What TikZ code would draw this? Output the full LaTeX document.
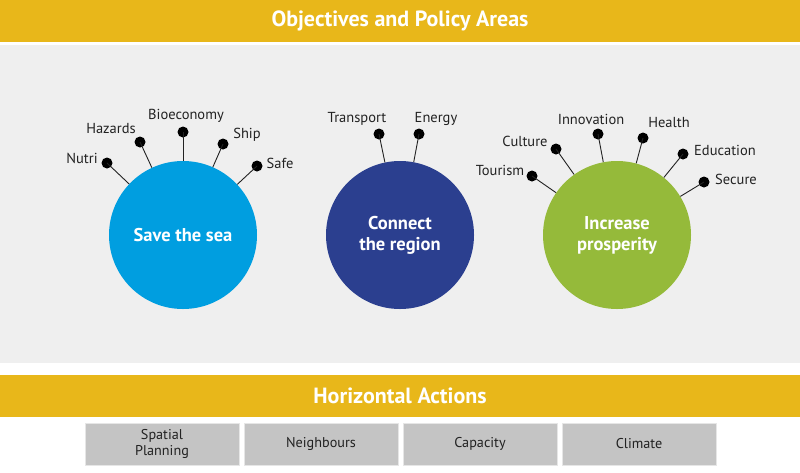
\documentclass[tikz,border=0pt]{standalone}
\usepackage{fontspec}
\setmainfont{PT Sans}
\usepackage{xcolor}
\usepackage{tikz}
\usetikzlibrary{positioning,calc}
\definecolor{cBar}{HTML}{E8B71A}
\definecolor{cPanel}{HTML}{EFEFEF}
\definecolor{cSea}{HTML}{009EE0}
\definecolor{cReg}{HTML}{2B3F8F}
\definecolor{cPros}{HTML}{95BA3A}
\definecolor{cBox}{HTML}{C4C4C4}
\definecolor{cBoxLine}{HTML}{E6E6E6}
\definecolor{cInk}{HTML}{222222}
\tikzset{
  bar/.style    = {rectangle, fill=cBar, inner sep=0pt, minimum width=800pt,
                   minimum height=42pt, text=white, font=\fontsize{22}{24}\selectfont\bfseries},
  goal/.style   = {circle, inner sep=0pt, minimum size=148pt, text=white, align=center,
                   font=\fontsize{18.5}{21}\selectfont\bfseries},
  pin/.style    = {circle, fill=black, inner sep=0pt, minimum size=11pt},
  pinlab/.style = {font=\fontsize{14.5}{16}\selectfont, text=cInk, inner sep=1pt},
  stem/.style   = {draw=cInk, line width=0.9pt},
  act/.style    = {rectangle, fill=cBox, draw=cBoxLine, line width=1pt, align=center,
                   minimum width=154pt, minimum height=42pt, inner sep=1pt,
                   font=\fontsize{14.2}{16}\selectfont, text=cInk},
}
\begin{document}
\begin{tikzpicture}[x=1pt,y=-1pt]
  \useasboundingbox (0,0) rectangle (800,472);
  \fill[white] (0,0) rectangle (800,472);

  % ---- OBJECTIVES ----
  \node[bar] (top) at (400,21) {Objectives and Policy Areas};
  \fill[cPanel] (0,45) rectangle (800,363);

  \node[goal, fill=cSea]  (sea)  at (183,235) {Save the sea};
  \node[goal, fill=cReg]  (reg)  at (400,235) {Connect\\the region};
  \node[goal, fill=cPros] (pros) at (617,235) {Increase\\prosperity};

  % ---- PINS: save the sea ----
  \node[pin] (nutri) at (107,163) {};
  \node[pin] (haz)   at (140,142) {};
  \node[pin] (bio)   at (183,132) {};
  \node[pin] (ship)  at (223,144) {};
  \node[pin] (safe)  at (257,166) {};
  \node[pinlab] at (82,158)  {Nutri};
  \node[pinlab] at (111,129) {Hazards};
  \node[pinlab] at (186,116) {Bioeconomy};
  \node[pinlab] at (247,135) {Ship};
  \node[pinlab] at (280,163) {Safe};
  \foreach \p in {nutri,haz,bio,ship,safe}
    \draw[stem] (\p.center) -- (sea);

  % ---- PINS: connect the region ----
  \node[pin] (trans) at (379,134) {};
  \node[pin] (ener)  at (419,134) {};
  \node[pinlab] at (357,119) {Transport};
  \node[pinlab] at (436,119) {Energy};
  \foreach \p in {trans,ener}
    \draw[stem] (\p.center) -- (reg);

  % ---- PINS: increase prosperity ----
  \node[pin] (tour)  at (532,176) {};
  \node[pin] (cult)  at (556,149) {};
  \node[pin] (inno)  at (598,134) {};
  \node[pin] (heal)  at (643,138) {};
  \node[pin] (edu)   at (683,154) {};
  \node[pin] (sec)   at (704,182) {};
  \node[pinlab] at (500,170) {Tourism};
  \node[pinlab] at (525,141) {Culture};
  \node[pinlab] at (591,119) {Innovation};
  \node[pinlab] at (669,123) {Health};
  \node[pinlab] at (725,150) {Education};
  \node[pinlab] at (736,179) {Secure};
  \foreach \p in {tour,cult,inno,heal,edu,sec}
    \draw[stem] (\p.center) -- (pros);

  % ---- HORIZONTAL ACTIONS ----
  \node[bar] (hor) at (400,396) {Horizontal Actions};
  \node[act] (spat)  at (162,444) {Spatial\\[0pt]Planning};
  \node[act] (neigh) at (321,444) {Neighbours};
  \node[act] (cap)   at (480,444) {Capacity};
  \node[act] (clim)  at (639,444) {Climate};
\end{tikzpicture}
\end{document}
